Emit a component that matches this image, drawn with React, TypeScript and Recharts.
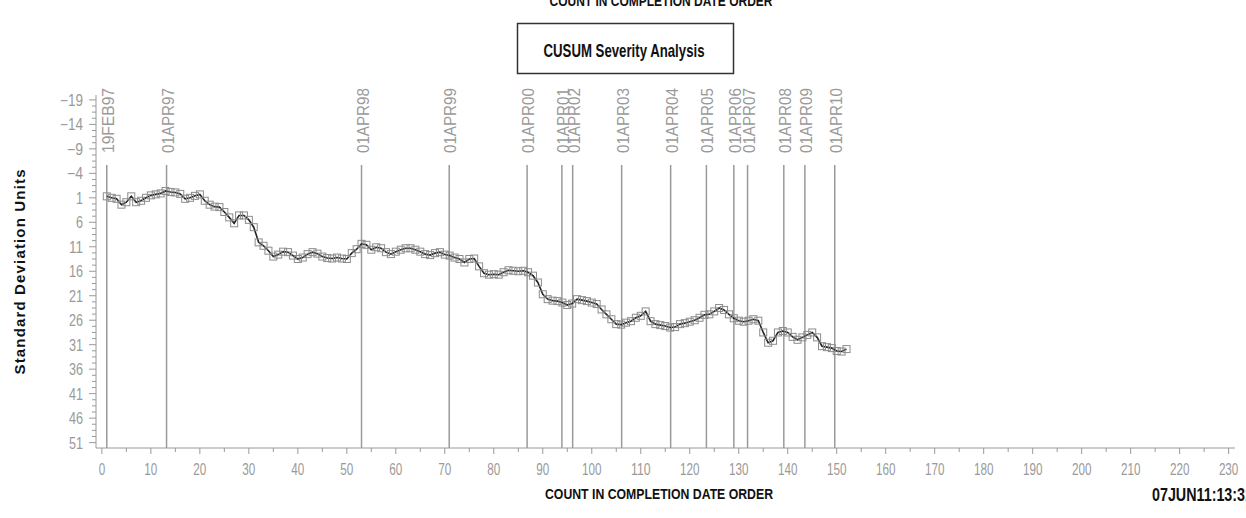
import React from 'react';
import { LineChart, Line, XAxis, YAxis, ReferenceLine } from 'recharts';

// CUSUM value for each count 1..152 (standard deviation units)
const CUSUM_VALUES = [
  0.7, 1.0, 1.2, 2.4, 1.9, 0.7, 1.9, 1.6, 1.0, 0.5,
  0.3, 0.1, -0.4, -0.2, -0.1, 0.2, 1.2, 1.0, 0.6, 0.3,
  1.6, 2.4, 2.8, 2.9, 3.9, 5.0, 6.2, 4.6, 4.6, 5.5,
  7.0, 10.1, 10.8, 11.8, 13.0, 12.6, 12.0, 12.1, 12.8, 13.5,
  13.2, 12.5, 12.1, 12.4, 13.0, 13.3, 13.4, 13.2, 13.4, 13.5,
  12.3, 11.5, 10.4, 10.6, 11.6, 11.1, 11.3, 12.1, 12.5, 12.0,
  11.6, 11.3, 11.3, 11.6, 12.0, 12.5, 12.7, 12.3, 12.1, 12.6,
  12.8, 13.2, 13.5, 14.2, 13.5, 13.4, 15.0, 16.4, 16.7, 16.6,
  16.7, 16.2, 15.8, 15.9, 16.0, 15.9, 16.2, 16.9, 18.3, 20.7,
  21.7, 22.0, 22.1, 22.4, 22.9, 22.6, 21.7, 21.9, 22.1, 22.4,
  22.7, 23.8, 24.8, 25.8, 26.8, 26.9, 26.5, 26.2, 25.5, 25.1,
  24.2, 26.2, 26.8, 27.0, 27.2, 27.5, 27.4, 26.8, 26.6, 26.3,
  26.0, 25.5, 24.9, 24.8, 24.2, 23.5, 23.9, 24.8, 25.6, 26.1,
  26.3, 26.1, 25.8, 26.1, 28.5, 30.6, 30.2, 28.5, 28.2, 28.5,
  29.4, 30.0, 29.5, 29.0, 28.5, 29.5, 31.3, 31.5, 31.7, 32.3,
  32.4, 31.9,
];

const DATE_LABELS = [
  '19FEB97', '01APR97', '01APR98', '01APR99', '01APR00', '01APR01', '01APR02',
  '01APR03', '01APR04', '01APR05', '01APR06', '01APR07', '01APR08', '01APR09', '01APR10',
];
const DATE_COUNTS = [1, 13.2, 53, 70.9, 86.8, 93.9, 96.1, 106.1, 116.1, 123.4, 129, 131.8, 139.2, 143.5, 149.6];

const X_MAJOR_TICKS = [0, 10, 20, 30, 40, 50, 60, 70, 80, 90, 100, 110, 120, 130, 140, 150, 160, 170, 180, 190, 200, 210, 220, 230];
const X_MINOR_TICKS = [5, 15, 25, 35, 45, 55, 65, 75, 85, 95, 105, 115, 125, 135, 145, 155, 165, 175, 185, 195, 205, 215, 225];
const Y_MAJOR_TICKS = [-19, -14, -9, -4, 1, 6, 11, 16, 21, 26, 31, 36, 41, 46, 51];
const Y_MINOR_TICKS = Y_MAJOR_TICKS.slice(0, -1).flatMap((v) => [v + 1.25, v + 2.5, v + 3.75]);

const TITLE = 'CUSUM Severity Analysis';
const X_LABEL = 'COUNT IN COMPLETION DATE ORDER';
const Y_LABEL = 'Standard Deviation Units';
const TIMESTAMP = '07JUN11:13:31';

const data = CUSUM_VALUES.map((v, i) => ({ count: i + 1, value: v }));

const TICK_COLOR = '#9a9a9a';
const NARROW = '"Liberation Sans Narrow","Arial Narrow","Liberation Sans",Arial,sans-serif';
const BOLD = '"Liberation Sans Narrow","Arial Narrow","Liberation Sans",Arial,sans-serif';

const fmt = (v: number) => (v < 0 ? '\u2212' + Math.abs(v) : String(v));

function XTick(props: any) {
  const { x, y, payload } = props;
  const v = payload.value;
  const major = X_MAJOR_TICKS.includes(v);
  const s = String(v);
  return (
    <g>
      <line x1={x} x2={x} y1={y} y2={y + (major ? 6 : 4)} stroke={TICK_COLOR} strokeWidth={1} />
      {major && (
        <text
          x={x}
          y={y + 27}
          textAnchor="middle"
          fill={TICK_COLOR}
          fontSize={16}
          fontFamily={NARROW}
          textLength={s.length * 6.5}
          lengthAdjust="spacingAndGlyphs"
        >
          {s}
        </text>
      )}
    </g>
  );
}

function YTick(props: any) {
  const { x, y, payload } = props;
  const v = payload.value;
  const major = Y_MAJOR_TICKS.includes(v);
  const s = fmt(v);
  const len = String(Math.abs(v)).length * 7 + (v < 0 ? 9 : 0);
  return (
    <g>
      <line x1={x - (major ? 7 : 4)} x2={x} y1={y} y2={y} stroke={TICK_COLOR} strokeWidth={1} />
      {major && (
        <text
          x={x - 13}
          y={y + 6}
          textAnchor="end"
          fill={TICK_COLOR}
          fontSize={16}
          fontFamily={NARROW}
          textLength={len}
          lengthAdjust="spacingAndGlyphs"
        >
          {s}
        </text>
      )}
    </g>
  );
}

function SquareDot(props: any) {
  const { cx, cy, index } = props;
  if (cx == null || cy == null) return <g key={index} />;
  return <rect key={index} x={cx - 3.5} y={cy - 3.5} width={7} height={7} fill="none" stroke="#8c8c8c" strokeWidth={1} />;
}

function dateLabel(text: string) {
  return (p: any) => {
    const vb = p.viewBox || {};
    const bx = (vb.x ?? 0) + 7;
    const by = (vb.y ?? 0) - 12;
    return (
      <text
        x={bx}
        y={by}
        transform={`rotate(-90 ${bx} ${by})`}
        textAnchor="start"
        fill={TICK_COLOR}
        fontSize={16}
        fontFamily={NARROW}
        textLength={65}
        lengthAdjust="spacingAndGlyphs"
      >
        {text}
      </text>
    );
  };
}

export default function App() {
  return (
    <div style={{ position: 'absolute', left: 0, top: 0, width: 1246, height: 518, background: '#fff', overflow: 'hidden' }}>
      <LineChart width={1246} height={518} data={data} margin={{ top: 95, right: 11, bottom: 0, left: 0 }}>
        <XAxis
          dataKey="count"
          type="number"
          domain={[-1.2, 231.3]}
          allowDataOverflow
          ticks={[...X_MAJOR_TICKS, ...X_MINOR_TICKS].sort((a, b) => a - b)}
          interval={0}
          tickLine={false}
          tickSize={0}
          tickMargin={0}
          tick={<XTick />}
          axisLine={{ stroke: TICK_COLOR }}
          height={70}
        />
        <YAxis
          type="number"
          domain={[-20, 52.1]}
          allowDataOverflow
          reversed
          ticks={[...Y_MAJOR_TICKS, ...Y_MINOR_TICKS].sort((a, b) => a - b)}
          interval={0}
          tickLine={false}
          tickSize={0}
          tickMargin={0}
          tick={<YTick />}
          axisLine={{ stroke: TICK_COLOR }}
          width={96}
        />
        {DATE_COUNTS.map((c, i) => (
          <ReferenceLine
            key={DATE_LABELS[i]}
            segment={[{ x: c, y: -5.7 }, { x: c, y: 52.1 }]}
            stroke={TICK_COLOR}
            strokeWidth={1.5}
            label={dateLabel(DATE_LABELS[i])}
          />
        ))}
        <Line
          type="linear"
          dataKey="value"
          stroke="#222"
          strokeWidth={1.6}
          dot={SquareDot}
          activeDot={false}
          isAnimationActive={false}
        />
      </LineChart>
      <svg width={1246} height={518} style={{ position: 'absolute', left: 0, top: 0, pointerEvents: 'none' }}>
        <text x={661} y={6} textAnchor="middle" fontSize={15} fontWeight="bold" fontFamily={BOLD} fill="#111" textLength={223} lengthAdjust="spacingAndGlyphs">
          {X_LABEL}
        </text>
        <rect x={517.5} y={23.5} width={216} height={50} fill="none" stroke="#333" strokeWidth={1.5} />
        <text x={624} y={57} textAnchor="middle" fontSize={19} fontWeight="bold" fontFamily={BOLD} fill="#111" textLength={161} lengthAdjust="spacingAndGlyphs">
          {TITLE}
        </text>
        <text
          x={20}
          y={272}
          transform="rotate(-90 20 272)"
          textAnchor="middle"
          dy="0.35em"
          fontSize={15}
          fontWeight="bold"
          fontFamily='"Liberation Sans",Arial,sans-serif'
          fill="#111"
          textLength={205}
          lengthAdjust="spacing"
        >
          {Y_LABEL}
        </text>
        <text x={659} y={499} textAnchor="middle" fontSize={14} fontWeight="bold" fontFamily={BOLD} fill="#111" textLength={228} lengthAdjust="spacingAndGlyphs">
          {X_LABEL}
        </text>
        <text x={1152} y={501} textAnchor="start" fontSize={19} fontWeight="bold" fontFamily={BOLD} fill="#111" textLength={101} lengthAdjust="spacingAndGlyphs">
          {TIMESTAMP}
        </text>
      </svg>
    </div>
  );
}
